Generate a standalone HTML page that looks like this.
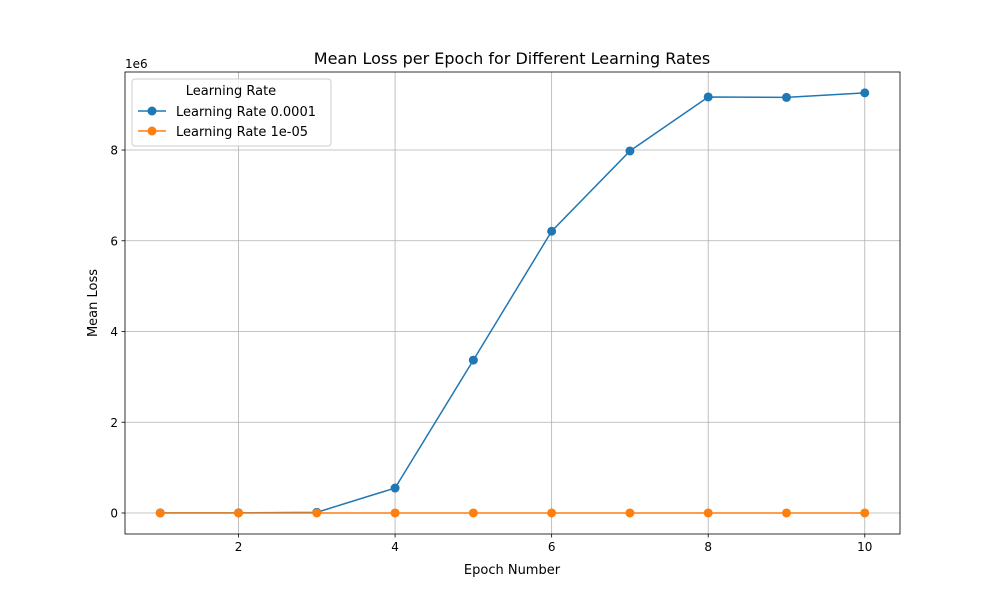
<!DOCTYPE html>
<html><head><meta charset="utf-8"><style>
body{margin:0;background:#fff;font-family:"DejaVu Sans","Liberation Sans",sans-serif;}
svg text{font-family:"DejaVu Sans","Liberation Sans",sans-serif;fill:#000}
</style></head><body>
<svg id="chart" width="1000" height="600" xmlns="http://www.w3.org/2000/svg"></svg>
<script>
const epochs=[1,2,3,4,5,6,7,8,9,10];
const lr1e4=[0.002,0.003,0.015,0.55,3.37,6.21,7.98,9.17,9.16,9.26];
const lr1e5=[0.001,0.001,0.001,0.001,0.001,0.001,0.001,0.001,0.001,0.001];
const xTicks=[2,4,6,8,10];
const yTicks=[0,2,4,6,8];
const L=125,R=900,T=72,B=534;
const xMin=0.55,xMax=10.45,yMin=-0.463,yMax=9.72;
const sx=v=>L+(v-xMin)/(xMax-xMin)*(R-L);
const sy=v=>B-(v-yMin)/(yMax-yMin)*(B-T);
const svg=document.getElementById('chart');
const NS='http://www.w3.org/2000/svg';
function mk(t,a,p){const e=document.createElementNS(NS,t);for(const k in a)e.setAttribute(k,a[k]);(p||svg).appendChild(e);return e;}
const grid=mk('g',{});


xTicks.forEach(v=>{const x=sx(v);
mk('line',{x1:x,x2:x,y1:T,y2:B,stroke:'#b0b0b0','stroke-width':0.8},grid);
mk('line',{x1:x,x2:x,y1:B,y2:B+3.5,stroke:'#000','stroke-width':0.8});
const t=mk('text',{x:x,y:B+17,'text-anchor':'middle','font-size':12});t.textContent=v;

});
yTicks.forEach(v=>{const y=sy(v);
mk('line',{x1:L,x2:R,y1:y,y2:y,stroke:'#b0b0b0','stroke-width':0.8},grid);
mk('line',{x1:L-3.5,x2:L,y1:y,y2:y,stroke:'#000','stroke-width':0.8});
const t=mk('text',{x:L-7,y:y+4.5,'text-anchor':'end','font-size':12});t.textContent=v;

});
function series(vals,color,name){
const g=mk('g',{});


mk('polyline',{points:epochs.map((e,i)=>sx(e)+','+sy(vals[i])).join(' '),fill:'none',stroke:color,'stroke-width':1.5},g);
epochs.forEach((e,i)=>{const c=mk('circle',{cx:sx(e),cy:sy(vals[i]),r:4.5,fill:color},g);

});}
series(lr1e4,'#1f77b4','series-lr-0.0001');
series(lr1e5,'#ff7f0e','series-lr-1e-05');
mk('rect',{x:L,y:T,width:R-L,height:B-T,fill:'none',stroke:'#000','stroke-width':0.8});
let t=mk('text',{x:125,y:68,'font-size':12});t.textContent='1e6';
t=mk('text',{x:512,y:64,'text-anchor':'middle','font-size':16});t.textContent='Mean Loss per Epoch for Different Learning Rates';

t=mk('text',{x:512,y:574,'text-anchor':'middle','font-size':13});t.textContent='Epoch Number';

t=mk('text',{x:97,y:303,'text-anchor':'middle','font-size':13,transform:'rotate(-90 97 303)'});t.textContent='Mean Loss';

const lg=mk('g',{});


mk('rect',{x:132,y:79,width:199,height:67,rx:3,fill:'#fff','fill-opacity':0.8,stroke:'#ccc'},lg);
t=mk('text',{x:231,y:95,'text-anchor':'middle','font-size':13},lg);t.textContent='Learning Rate';
[['#1f77b4','Learning Rate 0.0001',111],['#ff7f0e','Learning Rate 1e-05',131]].forEach(([c,l,y])=>{
mk('line',{x1:138,x2:166,y1:y,y2:y,stroke:c,'stroke-width':1.5},lg);
mk('circle',{cx:152,cy:y,r:4.5,fill:c},lg);
const tt=mk('text',{x:176,y:y+5,'font-size':13},lg);tt.textContent=l;
});
</script>
</body></html>
